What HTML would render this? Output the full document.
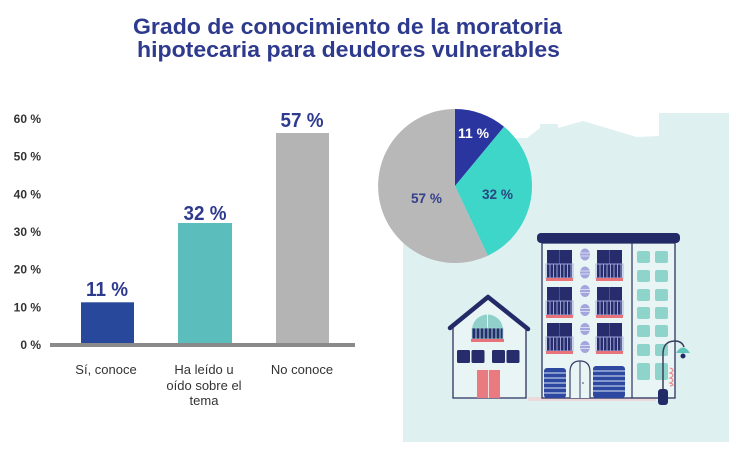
<!DOCTYPE html>
<html><head><meta charset="utf-8">
<style>
html,body{margin:0;padding:0;background:#fff;}
svg{display:block;}
text{font-family:"Liberation Sans",Arial,sans-serif;}
</style></head>
<body>
<svg width="740" height="459" viewBox="0 0 740 459" xmlns="http://www.w3.org/2000/svg">
<rect x="0" y="0" width="740" height="459" fill="#ffffff"/>

<!-- Title -->
<text x="133" y="34" font-size="22.5" font-weight="bold" fill="#2e3a8e" textLength="429" lengthAdjust="spacingAndGlyphs">Grado de conocimiento de la moratoria</text>
<text x="137" y="57" font-size="22.5" font-weight="bold" fill="#2e3a8e" textLength="423" lengthAdjust="spacingAndGlyphs">hipotecaria para deudores vulnerables</text>

<!-- Bar chart tick labels -->
<g font-size="12" font-weight="bold" fill="#333" text-anchor="end">
<text x="41" y="123">60 %</text>
<text x="41" y="160.7">50 %</text>
<text x="41" y="198.3">40 %</text>
<text x="41" y="236">30 %</text>
<text x="41" y="273.7">20 %</text>
<text x="41" y="311.5">10 %</text>
<text x="41" y="349">0 %</text>
</g>

<!-- Bars -->
<rect x="81" y="302.3" width="53" height="42.7" fill="#28489b"/>
<rect x="178" y="223" width="54" height="122" fill="#5bbdbc"/>
<rect x="276" y="133" width="53" height="212" fill="#b4b4b4"/>
<!-- axis -->
<rect x="50" y="343" width="305" height="4" fill="#8a8a8a"/>

<!-- bar value labels -->
<g font-size="20" font-weight="bold" fill="#2e3a8e" text-anchor="middle">
<text x="107" y="296" textLength="42" lengthAdjust="spacingAndGlyphs">11 %</text>
<text x="205" y="220" textLength="43" lengthAdjust="spacingAndGlyphs">32 %</text>
<text x="302" y="127" textLength="43" lengthAdjust="spacingAndGlyphs">57 %</text>
</g>

<!-- category labels -->
<g font-size="13" fill="#333" text-anchor="middle">
<text x="106" y="374">Sí, conoce</text>
<text x="204" y="374">Ha leído u</text>
<text x="204" y="390">oído sobre el</text>
<text x="204" y="405">tema</text>
<text x="302" y="374">No conoce</text>
</g>

<!-- Background skyline area -->
<polygon fill="#def0ef" points="403,442 403,150 517,138 527,138 540,128 540,124 558,124 558,128 583,121 637,137 659,136 659,113 729,113 729,442"/>

<!-- Big building -->
<rect x="528" y="397" width="128" height="4" rx="2" fill="#ecdada"/>
<rect x="542" y="243" width="133" height="155" fill="#e9f5f5" stroke="#2d3160" stroke-width="1.3"/>
<line x1="632" y1="243" x2="632" y2="398" stroke="#2d3160" stroke-width="1.2"/>
<rect x="537" y="233" width="143" height="10" rx="4" fill="#232a68"/>

<defs>
<g id="win">
<rect x="0" y="0" width="25" height="28" fill="#262c6c"/>
<line x1="12.5" y1="0" x2="12.5" y2="14" stroke="#4c5394" stroke-width="1"/>
<rect x="-1" y="14" width="27" height="14" fill="none" stroke="#a9addf" stroke-width="0.9"/>
<g stroke="#a9addf" stroke-width="0.9">
<line x1="3" y1="14" x2="3" y2="28"/><line x1="6.5" y1="14" x2="6.5" y2="28"/><line x1="10" y1="14" x2="10" y2="28"/>
<line x1="13.5" y1="14" x2="13.5" y2="28"/><line x1="17" y1="14" x2="17" y2="28"/><line x1="20.5" y1="14" x2="20.5" y2="28"/>
<line x1="24" y1="14" x2="24" y2="28"/>
</g>
<rect x="-1" y="28" width="27" height="3" fill="#e8737a"/>
</g>
<g id="oval">
<ellipse cx="0" cy="0" rx="5" ry="6" fill="#a3a5dd"/>
<line x1="-5" y1="-1.5" x2="5" y2="-1.5" stroke="#e6e7f7" stroke-width="0.8"/>
<line x1="-5" y1="1.5" x2="5" y2="1.5" stroke="#e6e7f7" stroke-width="0.8"/>
</g>
</defs>

<use href="#win" x="547" y="250"/>
<use href="#win" x="597" y="250"/>
<use href="#win" x="547" y="287"/>
<use href="#win" x="597" y="287"/>
<use href="#win" x="547" y="323"/>
<use href="#win" x="597" y="323"/>

<use href="#oval" x="585" y="254.5"/>
<use href="#oval" x="585" y="272.5"/>
<use href="#oval" x="585" y="291"/>
<use href="#oval" x="585" y="310"/>
<use href="#oval" x="585" y="329"/>
<use href="#oval" x="585" y="347"/>

<g fill="#8fd4cb">
<rect x="637" y="251" width="13" height="12" rx="2"/><rect x="655" y="251" width="13" height="12" rx="2"/>
<rect x="637" y="270" width="13" height="12" rx="2"/><rect x="655" y="270" width="13" height="12" rx="2"/>
<rect x="637" y="289" width="13" height="12" rx="2"/><rect x="655" y="289" width="13" height="12" rx="2"/>
<rect x="637" y="307" width="13" height="12" rx="2"/><rect x="655" y="307" width="13" height="12" rx="2"/>
<rect x="637" y="325" width="13" height="12" rx="2"/><rect x="655" y="325" width="13" height="12" rx="2"/>
<rect x="637" y="344" width="13" height="12" rx="2"/><rect x="655" y="344" width="13" height="12" rx="2"/>
<rect x="637" y="363" width="13" height="17" rx="2"/><rect x="655" y="363" width="13" height="17" rx="2"/>
</g>

<!-- garages -->
<rect x="544" y="368" width="22" height="30" rx="3" fill="#2d48a0"/>
<rect x="593" y="366" width="32" height="32" rx="3" fill="#2d48a0"/>
<g stroke="#dfe6f6" stroke-width="0.9">
<line x1="544" y1="373" x2="566" y2="373"/><line x1="544" y1="378" x2="566" y2="378"/><line x1="544" y1="383" x2="566" y2="383"/><line x1="544" y1="388" x2="566" y2="388"/><line x1="544" y1="393" x2="566" y2="393"/>
<line x1="593" y1="371" x2="625" y2="371"/><line x1="593" y1="376" x2="625" y2="376"/><line x1="593" y1="381" x2="625" y2="381"/><line x1="593" y1="386" x2="625" y2="386"/><line x1="593" y1="391" x2="625" y2="391"/>
</g>
<!-- door -->
<path d="M570,398 L570,372 Q570,361 580,361 Q590,361 590,372 L590,398" fill="#e9f5f5" stroke="#3a3f6a" stroke-width="1.2"/>
<line x1="580" y1="361" x2="580" y2="398" stroke="#3a3f6a" stroke-width="1"/>
<circle cx="583" cy="383" r="0.8" fill="#3a3f6a"/>

<!-- lamp -->
<path d="M663,392 L663,354 Q663,341 675,341 Q682,341 684,347" fill="none" stroke="#3a4060" stroke-width="1.5"/>
<path d="M676,353 Q683,342 690,353 Z" fill="#5ec4bc"/>
<circle cx="683" cy="356" r="2.5" fill="#232a68"/>
<rect x="658" y="389" width="10" height="16" rx="3" fill="#232a68"/>
<path d="M670,368 Q676,370 670,373 Q676,375 670,378 Q676,380 670,383 Q676,385 670,386" fill="none" stroke="#e8898f" stroke-width="1.2"/>

<!-- Small house -->
<polygon points="453,326 488,298 526,326 526,398 453,398" fill="#e9f5f5" stroke="#2d3160" stroke-width="1.3"/>
<polyline points="450,328 488,297 528,329" fill="none" stroke="#232a68" stroke-width="4.5" stroke-linecap="round" stroke-linejoin="round"/>
<path d="M472,330 A15.5,15.5 0 0 1 503,330 Z" fill="#8fd0cb"/>
<line x1="487.5" y1="314.5" x2="487.5" y2="330" stroke="#e9f5f5" stroke-width="1"/>
<rect x="472" y="328" width="31" height="11" fill="#262c6c" stroke="#9fd6d0" stroke-width="0.8"/>
<g stroke="#9fd6d0" stroke-width="1">
<line x1="476" y1="328" x2="476" y2="339"/><line x1="480" y1="328" x2="480" y2="339"/><line x1="484" y1="328" x2="484" y2="339"/>
<line x1="488" y1="328" x2="488" y2="339"/><line x1="492" y1="328" x2="492" y2="339"/><line x1="496" y1="328" x2="496" y2="339"/><line x1="500" y1="328" x2="500" y2="339"/>
</g>
<rect x="471" y="339" width="33" height="3" fill="#e8737a"/>
<g fill="#262c6c">
<rect x="457" y="350" width="13" height="13" rx="1.5"/><rect x="471.5" y="350" width="13" height="13" rx="1.5"/>
<rect x="492" y="350" width="13" height="13" rx="1.5"/><rect x="506.5" y="350" width="13" height="13" rx="1.5"/>
</g>
<rect x="477" y="370" width="23" height="28" fill="#e87a80"/>
<line x1="488.5" y1="370" x2="488.5" y2="398" stroke="#f6dede" stroke-width="1"/>

<!-- Pie -->
<path d="M455,186 L455,109 A77,77 0 0 1 504.1,126.7 Z" fill="#2b35a0"/>
<path d="M455,186 L504.1,126.7 A77,77 0 0 1 487.8,255.7 Z" fill="#3dd6c9"/>
<path d="M455,186 L487.8,255.7 A77,77 0 1 1 455,109 Z" fill="#b8b8b8"/>
<text x="473.5" y="138" font-size="14" font-weight="bold" fill="#ffffff" text-anchor="middle" textLength="31" lengthAdjust="spacingAndGlyphs">11 %</text>
<text x="497.5" y="199" font-size="14" font-weight="bold" fill="#26497f" text-anchor="middle" textLength="31" lengthAdjust="spacingAndGlyphs">32 %</text>
<text x="426.5" y="203" font-size="14" font-weight="bold" fill="#353f8c" text-anchor="middle" textLength="31" lengthAdjust="spacingAndGlyphs">57 %</text>
</svg>
</body></html>
